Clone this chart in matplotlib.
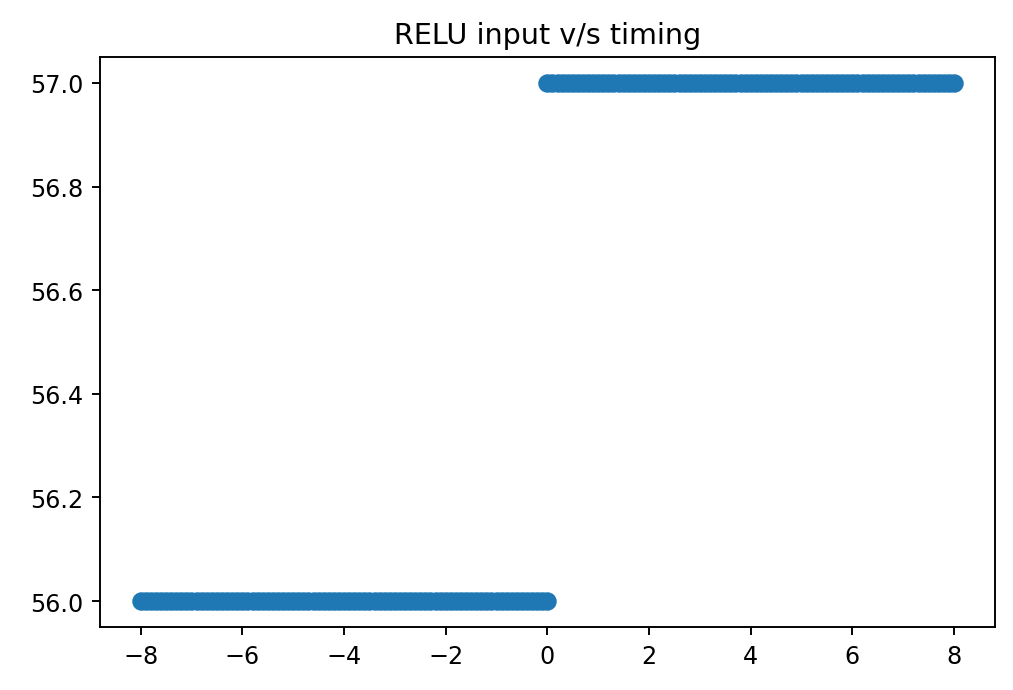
import matplotlib
matplotlib.use("Agg")
import matplotlib.pyplot as plt

neg_inputs = [-8.0, -7.9, -7.8, -7.7, -7.6, -7.5, -7.4, -7.3, -7.2, -7.1,
              -7.0, -6.9, -6.8, -6.7, -6.6, -6.5, -6.4, -6.3, -6.2, -6.1,
              -6.0, -5.9, -5.8, -5.7, -5.6, -5.5, -5.4, -5.3, -5.2, -5.1,
              -5.0, -4.9, -4.8, -4.7, -4.6, -4.5, -4.4, -4.3, -4.2, -4.1,
              -4.0, -3.9, -3.8, -3.7, -3.6, -3.5, -3.4, -3.3, -3.2, -3.1,
              -3.0, -2.9, -2.8, -2.7, -2.6, -2.5, -2.4, -2.3, -2.2, -2.1,
              -2.0, -1.9, -1.8, -1.7, -1.6, -1.5, -1.4, -1.3, -1.2, -1.1,
              -1.0, -0.9, -0.8, -0.7, -0.6, -0.5, -0.4, -0.3, -0.2, -0.1,
              0.0]
neg_timing = [56, 56, 56, 56, 56, 56, 56, 56, 56, 56,
              56, 56, 56, 56, 56, 56, 56, 56, 56, 56,
              56, 56, 56, 56, 56, 56, 56, 56, 56, 56,
              56, 56, 56, 56, 56, 56, 56, 56, 56, 56,
              56, 56, 56, 56, 56, 56, 56, 56, 56, 56,
              56, 56, 56, 56, 56, 56, 56, 56, 56, 56,
              56, 56, 56, 56, 56, 56, 56, 56, 56, 56,
              56, 56, 56, 56, 56, 56, 56, 56, 56, 56,
              56]
pos_inputs = [0.0, 0.1, 0.2, 0.3, 0.4, 0.5, 0.6, 0.7, 0.8, 0.9,
              1.0, 1.1, 1.2, 1.3, 1.4, 1.5, 1.6, 1.7, 1.8, 1.9,
              2.0, 2.1, 2.2, 2.3, 2.4, 2.5, 2.6, 2.7, 2.8, 2.9,
              3.0, 3.1, 3.2, 3.3, 3.4, 3.5, 3.6, 3.7, 3.8, 3.9,
              4.0, 4.1, 4.2, 4.3, 4.4, 4.5, 4.6, 4.7, 4.8, 4.9,
              5.0, 5.1, 5.2, 5.3, 5.4, 5.5, 5.6, 5.7, 5.8, 5.9,
              6.0, 6.1, 6.2, 6.3, 6.4, 6.5, 6.6, 6.7, 6.8, 6.9,
              7.0, 7.1, 7.2, 7.3, 7.4, 7.5, 7.6, 7.7, 7.8, 7.9,
              8.0]
pos_timing = [57, 57, 57, 57, 57, 57, 57, 57, 57, 57,
              57, 57, 57, 57, 57, 57, 57, 57, 57, 57,
              57, 57, 57, 57, 57, 57, 57, 57, 57, 57,
              57, 57, 57, 57, 57, 57, 57, 57, 57, 57,
              57, 57, 57, 57, 57, 57, 57, 57, 57, 57,
              57, 57, 57, 57, 57, 57, 57, 57, 57, 57,
              57, 57, 57, 57, 57, 57, 57, 57, 57, 57,
              57, 57, 57, 57, 57, 57, 57, 57, 57, 57,
              57]

inputs = neg_inputs + pos_inputs
timing = neg_timing + pos_timing

dpi = 172
fig = plt.figure(figsize=(1013 / dpi, 691 / dpi), dpi=dpi)
ax = fig.add_axes([0.0987, 0.0912, 0.8833, 0.8248])

ax.scatter(inputs, timing, s=48, color="#1f77b4", edgecolors="#1f77b4", linewidths=0.8)
ax.set_title("RELU input v/s timing")

fig.savefig("out.png", dpi=dpi)
